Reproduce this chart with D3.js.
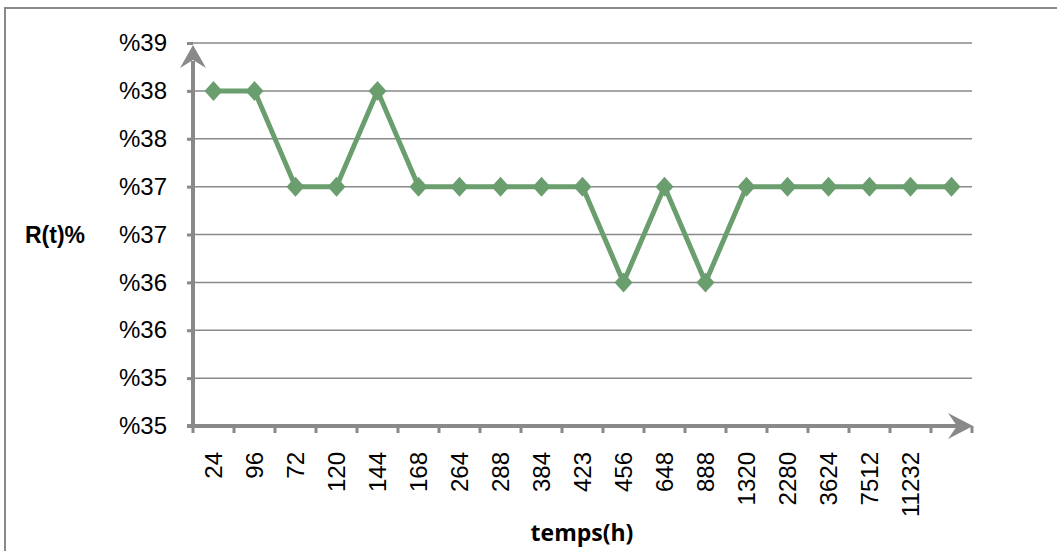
<!DOCTYPE html>
<html>
<head>
<meta charset="utf-8">
<script src="https://cdn.jsdelivr.net/npm/d3@7"></script>
<style>
  body { margin: 0; background: #fff; }
  svg { display: block; font-family: "Liberation Sans", Arial, sans-serif; }
</style>
</head>
<body>
<div id="chart"></div>
<script>
// chart data
const categories = ["24", "96", "72", "120", "144", "168", "264", "288", "384", "423",
                    "456", "648", "888", "1320", "2280", "3624", "7512", "11232", ""];
const values = [38.5, 38.5, 37.5, 37.5, 38.5, 37.5, 37.5, 37.5, 37.5, 37.5,
                36.5, 37.5, 36.5, 37.5, 37.5, 37.5, 37.5, 37.5, 37.5];
const yTicks = [35, 35.5, 36, 36.5, 37, 37.5, 38, 38.5, 39];
const yTickLabels = ["%35", "%35", "%36", "%36", "%37", "%37", "%38", "%38", "%39"];

const width = 1057, height = 551;
const margin = { top: 43, right: 85, bottom: 125, left: 193 };
const axisColor = "#898989";
const lineColor = "#6b9e6f";

const svg = d3.select("#chart").append("svg")
    .attr("width", width)
    .attr("height", height);

// outer frame
svg.append("path")
    .attr("d", `M5,${height} V8 H${width}`)
    .attr("fill", "none")
    .attr("stroke", axisColor)
    .attr("stroke-width", 2);

const x = d3.scaleBand()
    .domain(categories)
    .range([margin.left, width - margin.right]);

const y = d3.scaleLinear()
    .domain([35, 39])
    .range([height - margin.bottom, margin.top]);

// gridlines
svg.append("g")
    .selectAll("line")
    .data(yTicks.slice(1))
    .enter()
    .append("line")
        .attr("x1", margin.left)
        .attr("x2", width - margin.right)
        .attr("y1", d => y(d))
        .attr("y2", d => y(d))
        .attr("stroke", axisColor)
        .attr("stroke-width", 1.5);

// y axis
const yAxis = svg.append("g")
    .attr("transform", `translate(${margin.left},0)`)
    .call(d3.axisLeft(y).tickValues(yTicks).tickSize(6).tickPadding(20)
        .tickFormat((d, i) => yTickLabels[i]));
yAxis.select(".domain").remove();
yAxis.selectAll(".tick line").attr("stroke", axisColor).attr("stroke-width", 3);
yAxis.selectAll(".tick text")
    .attr("fill", "#000")
    .style("font-size", "24px");

// x axis
const xAxis = svg.append("g")
    .attr("transform", `translate(0,${height - margin.bottom})`)
    .call(d3.axisBottom(x).tickSize(0).tickPadding(0));
xAxis.select(".domain").remove();
xAxis.selectAll(".tick text")
    .attr("fill", "#000")
    .style("font-size", "24px")
    .attr("text-anchor", "end")
    .attr("dy", "0.35em")
    .attr("transform", "translate(0,26) rotate(-90)");

// x tick marks at band edges
const edges = categories.map(c => x(c)).concat([x.range()[1]]);
svg.append("g")
    .selectAll("line")
    .data(edges)
    .enter()
    .append("line")
        .attr("x1", d => d)
        .attr("x2", d => d)
        .attr("y1", height - margin.bottom)
        .attr("y2", height - margin.bottom + 7)
        .attr("stroke", axisColor)
        .attr("stroke-width", 3);

// axis lines with arrows
const y0 = y(35), xEnd = x.range()[1];
svg.append("line")
    .attr("x1", margin.left).attr("x2", margin.left)
    .attr("y1", y0 + 2).attr("y2", y(39) + 18)
    .attr("stroke", axisColor).attr("stroke-width", 4);
svg.append("path")
    .attr("d", `M${margin.left},${y(39) + 2} L${margin.left - 13},${y(39) + 25} L${margin.left},${y(39) + 17} L${margin.left + 13},${y(39) + 25} Z`)
    .attr("fill", axisColor);
svg.append("line")
    .attr("x1", margin.left - 6).attr("x2", xEnd - 14)
    .attr("y1", y0).attr("y2", y0)
    .attr("stroke", axisColor).attr("stroke-width", 4);
svg.append("path")
    .attr("d", `M${xEnd + 1},${y0} L${xEnd - 24},${y0 - 13} L${xEnd - 15},${y0} L${xEnd - 24},${y0 + 13} Z`)
    .attr("fill", axisColor);

// series line
const line = d3.line()
    .x((d, i) => x(categories[i]) + x.bandwidth() / 2)
    .y(d => y(d));
svg.append("path")
    .datum(values)
    .attr("d", line)
    .attr("fill", "none")
    .attr("stroke", lineColor)
    .attr("stroke-width", 5)
    .attr("stroke-linejoin", "round");

// diamond markers
svg.append("g")
    .selectAll("path")
    .data(values)
    .enter()
    .append("path")
        .attr("d", "M0,-10 L9,0 L0,10 L-9,0 Z")
        .attr("transform", (d, i) => `translate(${x(categories[i]) + x.bandwidth() / 2},${y(d)})`)
        .attr("fill", lineColor);

// axis titles
svg.append("text")
    .attr("x", 582)
    .attr("y", 541)
    .attr("text-anchor", "middle")
    .style("font-size", "23px")
    .style("font-weight", "bold")
    .style("font-family", "'Open Sans', sans-serif")
    .text("temps(h)");

svg.append("text")
    .attr("x", 25)
    .attr("y", 243)
    .style("font-size", "23px")
    .style("font-weight", "bold")
    .text("R(t)%");
</script>
</body>
</html>
